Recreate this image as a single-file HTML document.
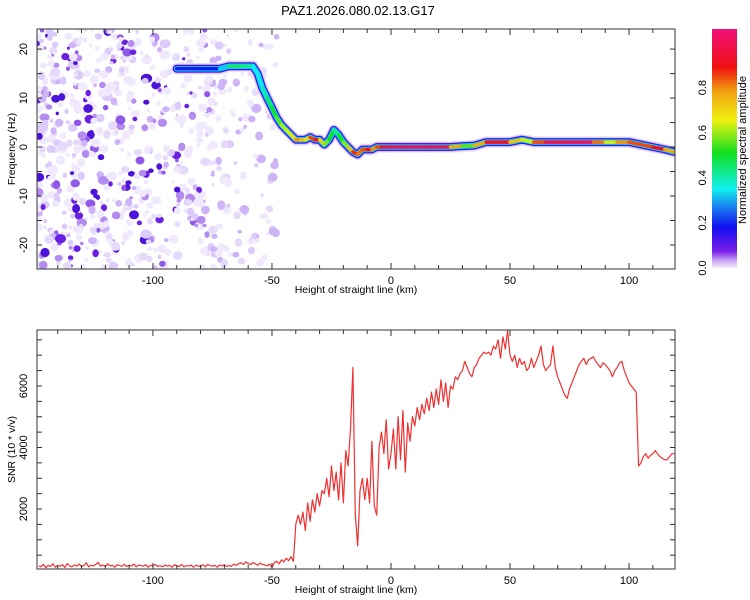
<!DOCTYPE html>
<html><head><meta charset="utf-8"><style>
body{margin:0;background:#fff;}
svg{display:block;font-family:"Liberation Sans",sans-serif;}
</style></head><body>
<svg id="chart" width="750" height="600" viewBox="0 0 750 600">
<defs>
<linearGradient id="cbar" x1="0" y1="1" x2="0" y2="0">
<stop offset="0" stop-color="#f4eefc"/>
<stop offset="0.03" stop-color="#c8a8f4"/>
<stop offset="0.07" stop-color="#7a1ee8"/>
<stop offset="0.17" stop-color="#1010f0"/>
<stop offset="0.25" stop-color="#1a78f0"/>
<stop offset="0.33" stop-color="#10f0f0"/>
<stop offset="0.48" stop-color="#10e020"/>
<stop offset="0.62" stop-color="#f0f010"/>
<stop offset="0.74" stop-color="#f0a010"/>
<stop offset="0.84" stop-color="#f01010"/>
<stop offset="1" stop-color="#f0107c"/>
</linearGradient>
<clipPath id="topclip"><rect x="37" y="29" width="638" height="240"/></clipPath>
<clipPath id="botclip"><rect x="37" y="330" width="638" height="239"/></clipPath>
</defs>
<text x="358" y="15" text-anchor="middle" font-size="13">PAZ1.2026.080.02.13.G17</text>
<g id="topPanel"></g>
<g id="botPanel"></g>
<g id="cb"></g>
</svg>
<script>
// ---- data ----
const ridgeKm   = [-90,-80,-72,-68,-62,-58,-56,-54,-52,-50,-48,-46,-44,-42,-40,-38,-36,-34,-32,-30,-28,-26,-24,-22,-20,-18,-16,-14,-12,-10,-8,-6,-4,0,5,15,25,30,35,40,45,50,55,60,65,75,85,90,95,100,105,110,115,119];
const ridgeFreq = [16,16,16,16.5,16.5,16.5,15,12,10,8,6,4.5,3.5,2.5,1.5,1.5,1.5,2,1.5,1.5,0.5,1.5,3.5,2.5,1,0,-1,-1.5,-0.5,-0.5,-0.5,0,0,0,0,0,0,0.2,0.3,1,1,1,1.5,1,1,1,1,1,1,1,0.5,0,-0.5,-1];
const ridgeAmp  = [0.1,0.15,0.2,0.4,0.45,0.35,0.3,0.35,0.4,0.45,0.5,0.55,0.6,0.6,0.7,0.8,0.6,0.7,0.9,0.85,0.5,0.6,0.35,0.45,0.5,0.6,0.8,0.85,0.7,0.9,0.8,0.7,0.9,0.95,0.95,0.95,0.95,0.5,0.55,0.9,0.85,0.9,0.5,0.7,0.9,0.95,0.95,0.6,0.6,0.9,0.7,0.9,0.85,0.6];
const snrStartKm = -148;
const snrValues = [
150,120,200,90,170,130,220,110,160,140,
190,100,230,150,120,180,140,210,130,160,
250,120,170,150,200,260,140,180,130,220,
150,170,110,190,160,140,200,130,170,150,
210,120,180,160,140,190,110,170,150,200,
130,160,120,180,140,170,110,190,150,130,
200,120,160,140,180,110,170,150,130,190,
120,200,160,140,170,110,180,150,190,130,
160,140,210,170,220,250,200,280,230,190,
260,220,170,240,200,180,150,210,
100,250,300,220,350,280,400,320,450,300,
1500,1800,1500,1900,1300,2200,1600,2300,1900,2500,
2100,2600,2500,3000,2400,3400,2600,3200,2300,3500,
2200,3900,3400,4600,6600,1800,800,2600,3000,2300,
3000,2200,4200,2100,1800,4000,4500,3800,4900,3300,
3800,4600,3300,5000,3600,5200,3200,4800,4200,5000,
4700,5300,4900,5400,5100,5600,5200,5800,5300,5900,
5400,6200,5500,6100,5300,6000,5900,6300,6200,6400,
6500,6800,6600,6400,6300,6600,6700,6900,7000,7100,
7050,7100,7000,7300,7200,7500,6900,7600,7200,7800,
7000,6800,7000,6600,6900,6700,6800,6500,6600,6900,
6600,6800,7000,7300,6700,6500,6600,6700,7300,6600,
6300,6100,5900,5700,5600,5900,6100,6300,6500,6700,
6800,6900,6700,6850,6900,6950,6800,6700,6600,6750,
6700,6600,6500,6300,6500,6600,6750,6800,6500,6300,
6100,6000,5900,5800,3400,3500,3700,3800,3650,3750,
3800,3900,3800,3700,3650,3600,3600,3700,3800,3800];
const xTicks = [-100,-50,0,50,100];
const freqTicks = [-20,-10,0,10,20];
const snrTicks = [2000,4000,6000];
const cbTicks = [0.0,0.2,0.4,0.6,0.8];

// ---- scales ----
const X0=37,X1=675,KMIN=-148.7,KMAX=119.3;
const sx=k=>X0+(k-KMIN)/(KMAX-KMIN)*(X1-X0);
const TY0=29,TY1=269,FMIN=-24.9,FMAX=24.1;
const sf=f=>TY1-(f-FMIN)/(FMAX-FMIN)*(TY1-TY0);
const BY0=330,BY1=569,SMIN=50,SMAX=7820;
const ss=v=>BY1-(v-SMIN)/(SMAX-SMIN)*(BY1-BY0);
const CY0=29,CY1=268,CMAX=1.06;
const sc=a=>CY1-a/CMAX*(CY1-CY0);
const NS="http://www.w3.org/2000/svg";
function mk(tag,attrs,parent){const e=document.createElementNS(NS,tag);for(const k in attrs)e.setAttribute(k,attrs[k]);parent.appendChild(e);return e;}
function cmap(a){const st=[[0,[122,30,232]],[0.17,[16,16,240]],[0.33,[16,240,240]],[0.48,[16,224,32]],[0.62,[240,240,16]],[0.74,[240,160,16]],[0.84,[240,16,16]],[1,[240,16,124]]];
for(let i=1;i<st.length;i++){if(a<=st[i][0]){const t=(a-st[i-1][0])/(st[i][0]-st[i-1][0]);const c=st[i-1][1].map((v,j)=>Math.round(v+t*(st[i][1][j]-v)));return `rgb(${c})`;}}return 'rgb(240,16,124)';}

const topG=document.getElementById('topPanel');
const gT=mk('g',{'clip-path':'url(#topclip)'},topG);


// noise texture (deterministic)
let seed=12345;const rnd=()=>{seed=(Math.imul(seed,1664525)+1013904223)>>>0;return seed/4294967296;};
const noiseCols=['#f0e8fd','#e6dafb','#dccafa','#cdb4f6','#b48cf0','#9058e8','#6a20e0','#4c14d8'];
for(let i=0;i<800;i++){
  const k=KMIN+Math.pow(rnd(),1.2)*(-50-KMIN)*1.02;
  const f=FMIN+rnd()*(FMAX-FMIN);
  if(k>-68 && rnd()<0.5) continue;
  let lvl=Math.floor(Math.pow(rnd(),2.6)*noiseCols.length);
  if(k>-75) lvl=Math.min(lvl,3);
  const r=1.5+rnd()*3.2;
  const e=mk('ellipse',{cx:sx(k).toFixed(1),cy:sf(f).toFixed(1),rx:(r*(0.8+rnd()*0.5)).toFixed(1),ry:r.toFixed(1),fill:noiseCols[lvl]},gT);
  
  
}
// ridge layers
const pts=ridgeKm.map((k,i)=>sx(k).toFixed(1)+','+sf(ridgeFreq[i]).toFixed(1)).join(' ');
[[12,'#f0e8fc'],[10,'#d8c4f8'],[8,'#7020e0'],[7,'#1414f0'],[5.5,'#10d0f0']].forEach(([w,c])=>{
  const p=mk('polyline',{points:pts,fill:'none',stroke:c,'stroke-width':w,'stroke-linejoin':'round','stroke-linecap':'round'},gT);
  
  
});
for(let i=0;i<ridgeKm.length-1;i++){
  const a=(ridgeAmp[i]+ridgeAmp[i+1])/2;
  const l=mk('line',{x1:sx(ridgeKm[i]),y1:sf(ridgeFreq[i]),x2:sx(ridgeKm[i+1]),y2:sf(ridgeFreq[i+1]),stroke:cmap(a),'stroke-width':3.5,'stroke-linecap':'round'},gT);
  
  
}

function frame(parent,y0,y1,yticks,sy,ylabel,minorStep,yMin,yMax){
  const r=mk('rect',{x:X0,y:y0,width:X1-X0,height:y1-y0,fill:'none',stroke:'#333','stroke-width':1},parent);
  
  
  for(let k=-140;k<=110;k+=10){const x=sx(k);const len=(k%50===0)?6:4;
    mk('line',{x1:x,y1:y1,x2:x,y2:y1-len,stroke:'#333'},parent);mk('line',{x1:x,y1:y0,x2:x,y2:y0+len,stroke:'#333'},parent);}
  xTicks.forEach(k=>{const t=mk('text',{x:sx(k),y:y1+15,'text-anchor':'middle','font-size':11},parent);t.textContent=k;
    
    });
  const xl=mk('text',{x:356,y:y1+24,'text-anchor':'middle','font-size':10.5},parent);xl.textContent='Height of straight line (km)';
  
  
  for(let v=Math.ceil(yMin/minorStep)*minorStep;v<=yMax;v+=minorStep){const y=sy(v);
    mk('line',{x1:X0,y1:y,x2:X0+5,y2:y,stroke:'#333'},parent);mk('line',{x1:X1,y1:y,x2:X1-5,y2:y,stroke:'#333'},parent);}
  yticks.forEach(v=>{const y=sy(v);const t=mk('text',{x:0,y:0,transform:`translate(27,${y}) rotate(-90)`,'text-anchor':'middle','font-size':11},parent);t.textContent=v;
    
    });
  const yl=mk('text',{x:0,y:0,transform:`translate(15,${(y0+y1)/2}) rotate(-90)`,'text-anchor':'middle','font-size':10.5},parent);yl.textContent=ylabel;
  
  
}
frame(topG,TY0,TY1,freqTicks,sf,'Frequency (Hz)',5,FMIN,FMAX);

// bottom SNR
const botG=document.getElementById('botPanel');
const gB=mk('g',{'clip-path':'url(#botclip)'},botG);
const sp=snrValues.map((v,i)=>sx(snrStartKm+i).toFixed(1)+','+ss(v).toFixed(1)).join(' ');
const line=mk('polyline',{points:sp,fill:'none',stroke:'#f03030','stroke-width':1.2,'stroke-linejoin':'round'},gB);


frame(botG,BY0,BY1,snrTicks,ss,'SNR (10 * v/v)',500,SMIN,SMAX);

// colorbar
const cb=document.getElementById('cb');
const bar=mk('rect',{x:712,y:29,width:25,height:CY1-29,fill:'url(#cbar)'},cb);


cbTicks.forEach(v=>{const y=sc(v);const t=mk('text',{x:0,y:0,transform:`translate(706,${y}) rotate(-90)`,'text-anchor':'middle','font-size':11},cb);t.textContent=v.toFixed(1);
  
  });
const cl=mk('text',{x:0,y:0,transform:'translate(746,150) rotate(-90)','text-anchor':'middle','font-size':11},cb);cl.textContent='Normalized spectral amplitude';


</script>
</body></html>
